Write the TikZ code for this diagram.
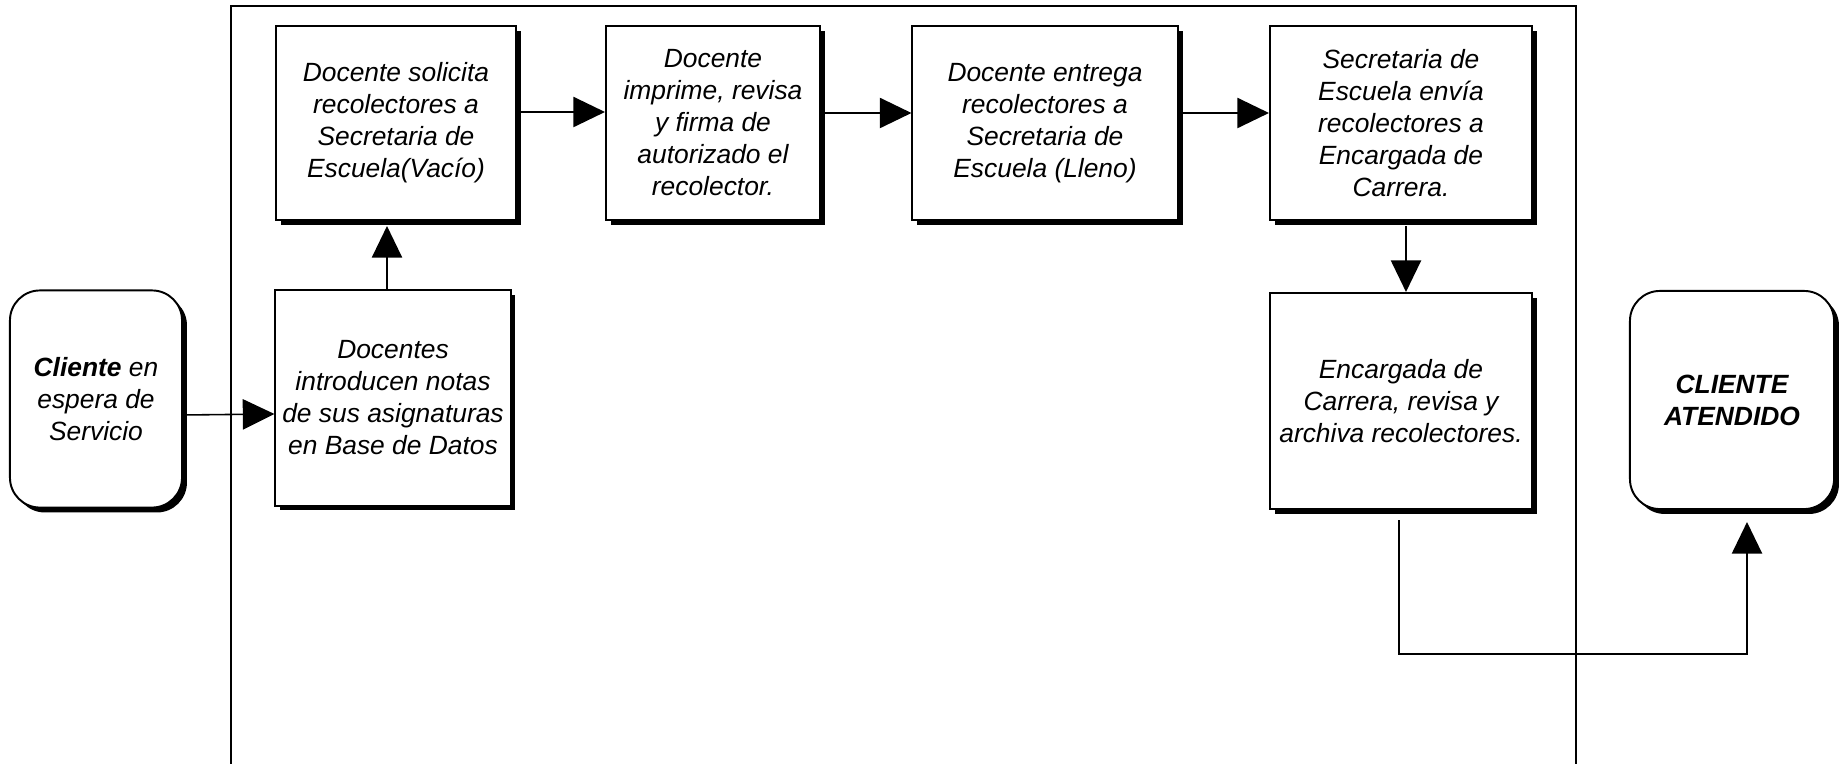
\documentclass[tikz,border=0pt]{standalone}
\usepackage{fontspec}
\setmainfont{Liberation Sans}
\usetikzlibrary{arrows.meta,calc,shadows}
\begin{document}
\begin{tikzpicture}[x=0.01cm,y=-0.01cm,
  font=\fontsize{7.5}{9.1}\selectfont\itshape,
  boxshadow/.style={drop shadow={shadow xshift=1.4pt,shadow yshift=-1.4pt,fill=black,opacity=1}},
  proc/.style={draw=black,line width=0.55pt,fill=white,align=center,inner sep=0pt,boxshadow},
  term/.style={proc,rounded corners=0.3cm},
  conn/.style={draw=black,line width=0.45pt,-{Triangle[length=9pt,width=8.6pt]}},
  lane/.style={draw=black,line width=0.5pt}
]
\useasboundingbox (0,0) rectangle (1839,764);

% swimlane frame
\draw[lane] (231,764) -- (231,6) -- (1576,6) -- (1576,764);

% process steps
\node[term,minimum width=1.72cm,minimum height=2.17cm] (cli) at (96,399)
  {\textbf{Cliente} en\\espera de\\Servicio};
\node[proc,minimum width=2.35cm,minimum height=2.15cm] (doc) at (393,398)
  {Docentes\\introducen notas\\de sus asignaturas\\en Base de Datos};
\node[proc,minimum width=2.40cm,minimum height=1.94cm] (sol) at (396,123)
  {Docente solicita\\recolectores a\\Secretaria de\\Escuela(Vacío)};
\node[proc,minimum width=2.14cm,minimum height=1.94cm] (imp) at (713,123)
  {Docente\\imprime, revisa\\y firma de\\autorizado el\\recolector.};
\node[proc,minimum width=2.65cm,minimum height=1.94cm] (ent) at (1045,123)
  {Docente entrega\\recolectores a\\Secretaria de\\Escuela (Lleno)};
\node[proc,minimum width=2.62cm,minimum height=1.94cm] (env) at (1401,123)
  {Secretaria de\\Escuela envía\\recolectores a\\Encargada de\\Carrera.};
\node[proc,minimum width=2.62cm,minimum height=2.16cm] (enc) at (1401,401)
  {Encargada de\\Carrera, revisa y\\archiva recolectores.};
\node[term,minimum width=2.04cm,minimum height=2.18cm] (cat) at (1732,400)
  {\textbf{CLIENTE}\\\textbf{ATENDIDO}};

% flow
\draw[conn] ($(cli.east)+(0,16)$) -- ($(doc.west)+(0,16)$);
\draw[conn] ($(doc.north)+(-6,0)$) -- ($(doc.north |- sol.south)+(-6,5)$);
\draw[conn] ($(sol.east)+(0,-11)$) -- ($(imp.west)+(0,-11)$);
\draw[conn] ($(imp.east)+(0,-10)$) -- ($(ent.west)+(0,-10)$);
\draw[conn] ($(ent.east)+(0,-10)$) -- ($(env.west)+(0,-10)$);
\draw[conn] ($(env.south)+(5,5)$) -- ($(env.south |- enc.north)+(5,0)$);
\draw[conn] ($(enc.south)+(-2,10)$) |- ($(cat.south)+(15,144)$) -- ($(cat.south)+(15,12)$);
\end{tikzpicture}
\end{document}
